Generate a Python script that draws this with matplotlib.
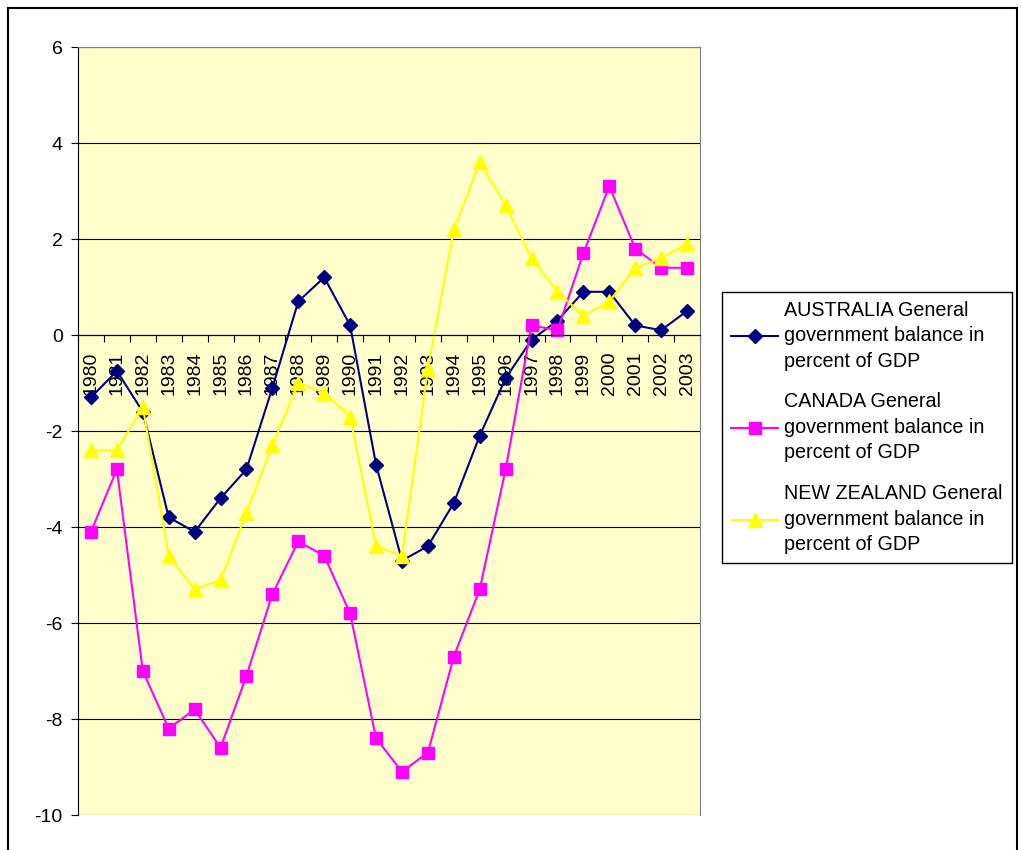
import numpy as np
import matplotlib.pyplot as plt
from matplotlib.patches import Rectangle

plt.rcParams['font.family'] = ['Liberation Sans', 'DejaVu Sans']
plt.rcParams['axes.unicode_minus'] = False

years = [str(y) for y in range(1980, 2004)]
australia = [-1.3, -0.75, -1.6, -3.8, -4.1, -3.4, -2.8, -1.1, 0.7, 1.2, 0.2, -2.7,
             -4.7, -4.4, -3.5, -2.1, -0.9, -0.1, 0.3, 0.9, 0.9, 0.2, 0.1, 0.5]
canada = [-4.1, -2.8, -7.0, -8.2, -7.8, -8.6, -7.1, -5.4, -4.3, -4.6, -5.8, -8.4,
          -9.1, -8.7, -6.7, -5.3, -2.8, 0.2, 0.1, 1.7, 3.1, 1.8, 1.4, 1.4]
new_zealand = [-2.4, -2.4, -1.5, -4.6, -5.3, -5.1, -3.7, -2.3, -1.0, -1.2, -1.7, -4.4,
               -4.6, -0.7, 2.2, 3.6, 2.7, 1.6, 0.9, 0.4, 0.7, 1.4, 1.6, 1.9]
labels = ["AUSTRALIA General\ngovernment balance in\npercent of GDP",
          "CANADA General\ngovernment balance in\npercent of GDP",
          "NEW ZEALAND General\ngovernment balance in\npercent of GDP"]

W, H = 1021, 850
fig = plt.figure(figsize=(W / 100, H / 100), dpi=100)
ax = fig.add_axes([78 / W, (H - 815) / H, 622 / W, 768 / H])
ax.set_facecolor('#FFFFCC')

x = np.arange(len(years))
ax.plot(x, australia, color='#000080', marker='D', markersize=7, lw=1.5, label=labels[0])
ax.plot(x, canada, color='#FF00FF', marker='s', markersize=9, lw=1.5, label=labels[1])
ax.plot(x, new_zealand, color='#FFFF00', marker='^', markersize=10, lw=1.5, label=labels[2])

ax.set_xlim(-0.5, len(years) - 0.5)
ax.set_ylim(-10, 6)
ax.set_yticks(np.arange(-10, 7, 2))
ax.yaxis.grid(True, color='black', lw=0.8)
ax.set_axisbelow(True)
ax.tick_params(axis='y', labelsize=14, length=5, direction='out', pad=6)

# category axis sits at zero, ticks between categories
ax.spines['bottom'].set_position(('data', 0))
ax.set_xticks(np.arange(-0.5, len(years), 1))
ax.set_xticklabels([])
ax.set_xticks(x, minor=True)
ax.set_xticklabels(years, minor=True, rotation=90, fontsize=14)
ax.tick_params(axis='x', which='major', length=5, direction='out')
ax.tick_params(axis='x', which='minor', length=0, pad=12)

for s in ['top', 'right']:
    ax.spines[s].set_color('#808080')
ax.spines['left'].set_color('black')

leg = fig.legend(loc='upper left', bbox_to_anchor=(722 / W, 1 - 292 / H), fontsize=14.2,
                 frameon=True, fancybox=False, edgecolor='black', framealpha=1,
                 handlelength=2.4, handletextpad=0.3, labelspacing=1.1, borderpad=0.45,
                 borderaxespad=0)
for t in leg.get_texts():
    t.set_linespacing(1.43)

fig.patches.append(Rectangle((8 / W, -0.01), 1009 / W, 1 - 8 / H + 0.01,
                             transform=fig.transFigure, fill=False,
                             edgecolor='black', lw=1.5))

fig.savefig('out.png', dpi=100)
